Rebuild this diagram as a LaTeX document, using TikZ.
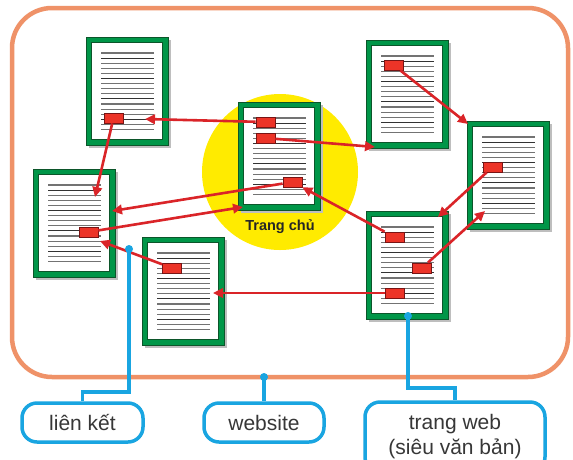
\documentclass[tikz,border=0pt]{standalone}
\usepackage{fontspec}
\setmainfont{Liberation Sans}
\usetikzlibrary{arrows.meta,calc}
\definecolor{orangeline}{RGB}{239,146,104}
\definecolor{yellowc}{RGB}{255,235,0}
\definecolor{framegreen}{RGB}{0,150,72}
\definecolor{framedark}{RGB}{12,85,42}
\definecolor{linkred}{RGB}{218,36,40}
\definecolor{boxred}{RGB}{236,52,40}
\definecolor{boxdark}{RGB}{120,20,20}
\definecolor{calloutblue}{RGB}{25,165,225}
\definecolor{shadowgray}{RGB}{190,190,190}
\definecolor{textdark}{RGB}{55,55,55}
\tikzset{
  pics/webpage/.style={code={
    \fill[shadowgray] (3,3) rectangle (85,111);
    \draw[fill=framegreen,draw=framedark,line width=0.8pt] (0,0) rectangle (82,108);
    \draw[fill=white,draw=framedark,line width=0.7pt] (5.5,5.5) rectangle (76.5,102.5);
    \foreach \i in {0,...,15} \draw[textline] (15,16+\i*5.1) -- (68,16+\i*5.1);
    \foreach \i in {1,5,9,13} \draw[textline,black!80] (15,16+\i*5.1) -- (68,16+\i*5.1);
  }},
  textline/.style={line width=1.1pt,black!55},
  linkbox/.style={rectangle,minimum width=19pt,minimum height=10pt,inner sep=0pt,
    fill=boxred,draw=boxdark,line width=0.8pt},
  linkarrow/.style={draw=linkred,line width=2.6pt,-{Triangle[length=10pt,width=9.5pt]}},
  calloutbox/.style={draw=calloutblue,line width=3.5pt,rounded corners=15pt,fill=white,
    inner sep=0pt,text=textdark,font=\fontsize{21}{25}\selectfont},
  callout/.style={draw=calloutblue,line width=3.5pt},
  calloutdot/.style={fill=calloutblue},
}
\begin{document}
\begin{tikzpicture}[x=1pt,y=-1pt]
\useasboundingbox (0,0) rectangle (573,459);
\fill[white] (0,0) rectangle (573,459);
% website frame
\draw[orangeline,line width=4.5pt,rounded corners=40pt] (12,8) rectangle (568,377);
% home highlight
\fill[yellowc] (280,172) circle[radius=78pt];
% pages
\pic at (86,37) {webpage};
\pic at (33,169) {webpage};
\pic at (238,102) {webpage};
\pic at (366,40) {webpage};
\pic at (467,121) {webpage};
\pic at (366,211) {webpage};
\pic at (142,237) {webpage};
% link boxes
\node[linkbox] (p1b) at (113.5,118) {};
\node[linkbox] (p2b) at (88.5,232) {};
\node[linkbox] (p3a) at (265.5,122) {};
\node[linkbox] (p3b) at (265.5,138) {};
\node[linkbox] (p3c) at (292.5,182) {};
\node[linkbox] (p4b) at (393.5,65) {};
\node[linkbox] (p5b) at (492.5,167) {};
\node[linkbox] (p6a) at (394.5,237) {};
\node[linkbox] (p6b) at (422,268) {};
\node[linkbox] (p6c) at (394.5,293) {};
\node[linkbox] (p7b) at (172,268) {};
% arrow targets
\coordinate (t1) at (145,119);
\coordinate (t2) at (95,197);
\coordinate (t3) at (112,211);
\coordinate (t4) at (243,207);
\coordinate (t5) at (375,147);
\coordinate (t6) at (468,124);
\coordinate (t7) at (438,217);
\coordinate (t8) at (485,211);
\coordinate (t10) at (213,293);
\coordinate (t11) at (100,241);
% arrows
\draw[linkarrow] (p3a) -- (t1);
\draw[linkarrow] (p1b) -- (t2);
\draw[linkarrow] (p3c) -- (t3);
\draw[linkarrow] (p2b) -- (t4);
\draw[linkarrow] (p3b) -- (t5);
\draw[linkarrow] (p4b) -- (t6);
\draw[linkarrow] (p5b) -- (t7);
\draw[linkarrow] (p6b) -- (t8);
\draw[linkarrow] (p6a) -- (p3c);
\draw[linkarrow] (p6c) -- (t10);
\draw[linkarrow] (p7b) -- (t11);
% home label
\node[font=\bfseries\fontsize{14.5}{17}\selectfont,text=black!85] (home) at (280,227) {Trang chủ};
% callout boxes
\node[calloutbox,minimum width=121pt,minimum height=39pt] (lk) at (82.5,422.5) {liên kết};
\node[calloutbox,minimum width=120pt,minimum height=39pt] (ws) at (264,422.5) {website};
\node[calloutbox,minimum width=180pt,minimum height=70pt,align=center] (tw) at (455,437) {trang web\\(siêu văn bản)};
% callout lines
\coordinate (dA) at (129,249);
\coordinate (bA) at (129,392);
\coordinate (dW) at (264,377);
\coordinate (dT) at (408,316);
\coordinate (bT) at (408,388);
\draw[callout] (dA) -- (bA) -| (lk.north);
\draw[callout] (dW) -- (ws.north);
\draw[callout] (dT) -- (bT) -| (tw.north);
\fill[calloutdot] (dA) circle[radius=4pt];
\fill[calloutdot] (dW) circle[radius=4pt];
\fill[calloutdot] (dT) circle[radius=4pt];
\end{tikzpicture}
\end{document}
